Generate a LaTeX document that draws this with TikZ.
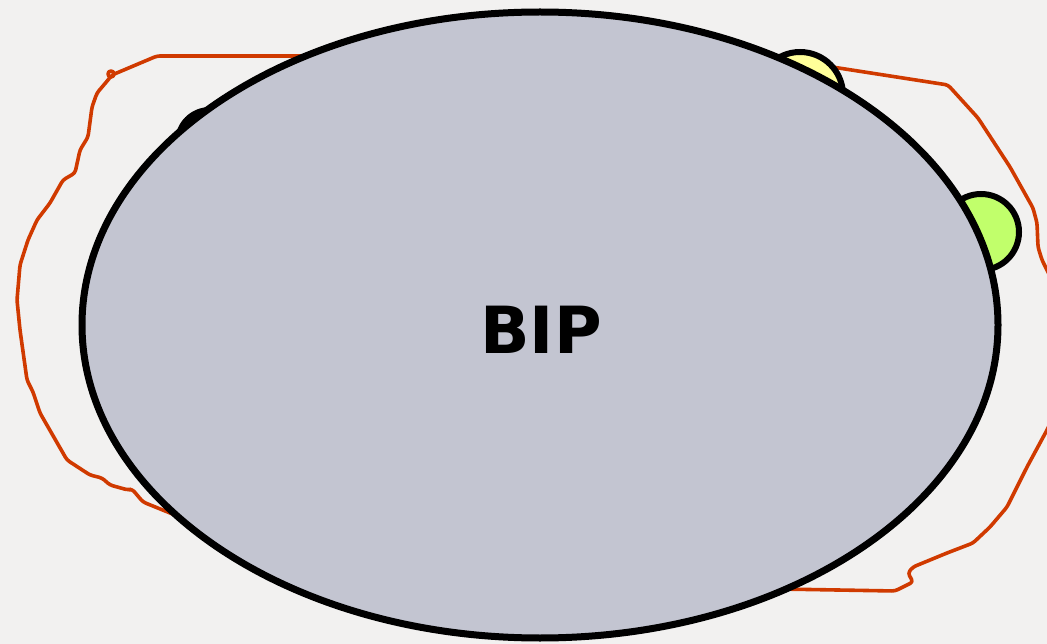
\documentclass[tikz,border=0pt]{standalone}
\usepackage{fontspec}
\newfontfamily\bipfont{DejaVu Sans}
\usepackage{tikz}
\usetikzlibrary{shapes.geometric}
\definecolor{bgcol}{HTML}{F2F1F0}
\definecolor{bipcol}{HTML}{C3C5D1}
\definecolor{linecol}{HTML}{D03A00}
\definecolor{yelcol}{HTML}{FFFF99}
\definecolor{grncol}{HTML}{C1FF6B}

\begin{document}
\begin{tikzpicture}[x=1pt, y=-1pt,
    outline/.style={draw=linecol, line width=3.6pt, rounded corners=3pt, line join=round},
    blob/.style={circle, draw=black, line width=6pt, inner sep=0pt}]
  \fill[bgcol] (0,0) rectangle (1047,644);
  \useasboundingbox (0,0) rectangle (1047,644);
  % freehand boundary, left and right parts
  \draw[outline] (320,56) -- (157,56) -- (112,75) -- (108,80) -- (97,93) -- (92,107)
    -- (88,137) -- (80,150) -- (75,173) -- (63,180) -- (50,203) -- (37,220)
    -- (28,240) -- (20,265) -- (17,300) -- (20,330) -- (27,380) -- (33,392)
    -- (40,413) -- (67,460) -- (90,475) -- (102,478) -- (110,485) -- (128,490)
    -- (132,489) -- (143,502) -- (175,515);
  \draw[outline] (111,74) circle (3);
  \draw[outline] (800,62) -- (948,85) -- (978,118) -- (1010,167) -- (1033,208)
    -- (1037,223) -- (1038,247) -- (1042,260) -- (1052,280);
  \draw[outline] (1052,420) -- (1047,430) -- (1027,467) -- (1007,507) -- (990,527)
    -- (973,543) -- (947,553) -- (913,567) -- (908,573) -- (913,582) -- (895,591)
    -- (780,589);
  % shapes behind the ellipse
  \node[blob, fill=black, minimum size=64pt] (dark) at (210,142) {};
  \node[blob, fill=yelcol, minimum size=86pt] (sun) at (800,95) {};
  \node[blob, fill=grncol, minimum size=76pt] (leaf) at (981,232) {};
  \node[ellipse, draw=black, fill=bipcol, line width=7pt, inner sep=0pt,
    minimum width=916pt, minimum height=626pt,
    font=\bipfont\bfseries\fontsize{65}{65}\selectfont] (bip) at (540,325) {};
  \node[font=\bipfont\bfseries\fontsize{65}{65}\selectfont, inner sep=0pt]
    (biptext) at (541,330) {BIP};
\end{tikzpicture}
\end{document}
